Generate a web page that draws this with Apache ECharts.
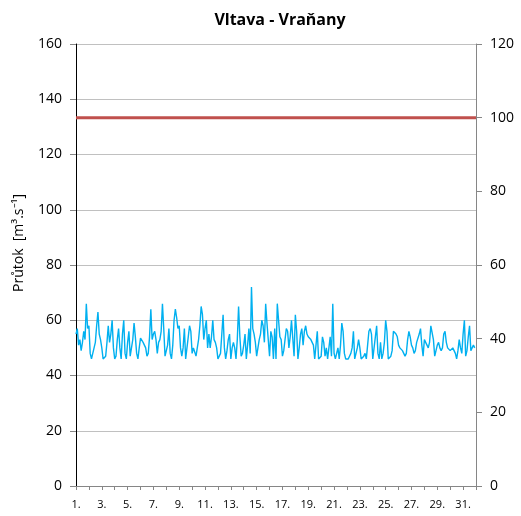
<!DOCTYPE html>
<html>
<head>
<meta charset="utf-8">
<title>Vltava - Vraňany</title>
<script src="https://cdn.jsdelivr.net/npm/echarts@6/dist/echarts.min.js"></script>
<style>
    html, body { margin: 0; padding: 0; background: #fff; }
    #chart { width: 521px; height: 516px; }
</style>
</head>
<body>
<div id="chart"></div>
<script>
// průtok - krok 0.1 dne od 1. dne
const startDay = 1
const stepDays = 0.1
const flow = [
    55, 57, 51, 53, 49, 52, 56, 53, 66, 57, 58, 48, 46, 46, 50, 52, 58, 63, 55, 53,
    50, 46, 46, 47, 52, 58, 52, 55, 60, 50, 46, 47, 53, 57, 50, 46, 55, 60, 48, 46,
    52, 56, 47, 50, 53, 59, 54, 48, 46, 50,
    53.5, 53, 52, 51, 50, 47, 48, 54, 64, 53, 55, 56, 53, 48, 52, 53, 56, 66, 57, 47,
    47, 51, 57, 48, 46, 51, 60, 64, 61, 57, 58, 50, 47, 50, 57, 46, 46, 54, 58, 56,
    48, 50, 50, 47, 50, 53, 58, 65, 62, 53,
    57, 60, 50, 55, 50, 54, 60, 53, 52, 50, 46, 46, 48, 55, 62, 50, 46, 49, 53, 55,
    46, 50, 52, 50, 46, 53, 65, 54, 47, 48, 51, 55, 46, 51, 57, 48, 72, 57, 55, 52,
    47, 50, 53, 55, 60, 58, 52, 66, 59, 53,
    47, 56, 54, 46, 57, 46, 66, 60, 54, 53, 47, 49, 53, 57, 56, 50, 54, 60, 60, 47,
    62, 56, 46, 50, 55, 57, 51, 56, 58, 55, 54, 54, 53, 53, 51, 46, 51, 56, 46, 46,
    47, 54, 52, 47, 50, 46, 50, 54, 47, 66,
    48, 46, 46, 50, 46, 51, 59, 56, 48, 46, 46, 46, 46, 48, 50, 56, 46, 46, 50, 53,
    50, 46, 46, 47, 48, 46, 51, 56, 57, 55, 46, 46, 54, 58, 48, 46, 52, 46, 48, 52,
    60, 56, 46, 46, 47, 49, 56, 56, 55, 54,
    51, 50, 50, 49, 49, 47, 48, 53, 56, 54, 51, 50, 48, 49, 52, 52, 55, 57, 51, 47,
    53, 53, 51, 50, 52, 58, 58, 53, 47, 47, 51, 52, 50, 49, 50, 55, 56, 52, 50, 50,
    49, 49, 50, 50, 48, 46, 49, 53, 50, 48, 55, 60, 47, 49, 54, 58, 49, 49, 51, 50
]
// hodnota na pravé ose (červená čára)
const limitDays = [1, 32]
const limitLevel = 100

const chart = echarts.init(document.getElementById('chart'))
const font = 'Open Sans'

const option = {
    animation: false,
    title: {
        text: 'Vltava - Vraňany',
        left: 275,
        textAlign: 'center',
        top: 7,
        textStyle: { fontFamily: font, fontSize: 16, fontWeight: 'bold', color: '#000' }
    },
    grid: { left: 76, right: 45, top: 44, bottom: 30 },
    xAxis: {
        type: 'value',
        min: 1,
        max: 32,
        interval: 1,
        axisLine: { lineStyle: { color: '#868686' } },
        axisTick: { length: 4, lineStyle: { color: '#868686' } },
        axisLabel: {
            fontFamily: font,
            fontSize: 11,
            color: '#000',
            margin: 13,
            formatter: (v) => (v % 2 === 1 && v < 32 ? v + '.' : '')
        },
        splitLine: { show: false }
    },
    yAxis: [
        {
            type: 'value',
            min: 0,
            max: 160,
            interval: 20,
            name: 'Průtok  [m³.s⁻¹]',
            nameLocation: 'middle',
            nameGap: 50,
            nameTextStyle: { fontFamily: font, fontSize: 14, color: '#000', padding: [0, 0, 0, 44] },
            axisLine: { show: true, lineStyle: { color: '#000' } },
            axisTick: { show: true, length: 6, lineStyle: { color: '#868686' } },
            axisLabel: { fontFamily: font, fontSize: 14, color: '#000', margin: 14 },
            splitLine: { lineStyle: { color: '#c0c0c0' } }
        },
        {
            type: 'value',
            min: 0,
            max: 120,
            interval: 20,
            position: 'right',
            axisLine: { show: true, lineStyle: { color: '#868686' } },
            axisTick: { show: true, length: 6, lineStyle: { color: '#868686' } },
            axisLabel: { fontFamily: font, fontSize: 14, color: '#000', margin: 14 },
            splitLine: { show: false }
        }
    ],
    series: [
        {
            type: 'line',
            yAxisIndex: 0,
            showSymbol: false,
            data: flow.map((v, i) => [startDay + i * stepDays, v]),
            lineStyle: { color: '#00b0f0', width: 1.4 },
            z: 3
        },
        {
            type: 'line',
            yAxisIndex: 1,
            showSymbol: false,
            data: limitDays.map(d => [d, limitLevel]),
            lineStyle: { color: '#c0504d', width: 3 },
            z: 4
        }
    ]
}
chart.setOption(option)
</script>
</body>
</html>
